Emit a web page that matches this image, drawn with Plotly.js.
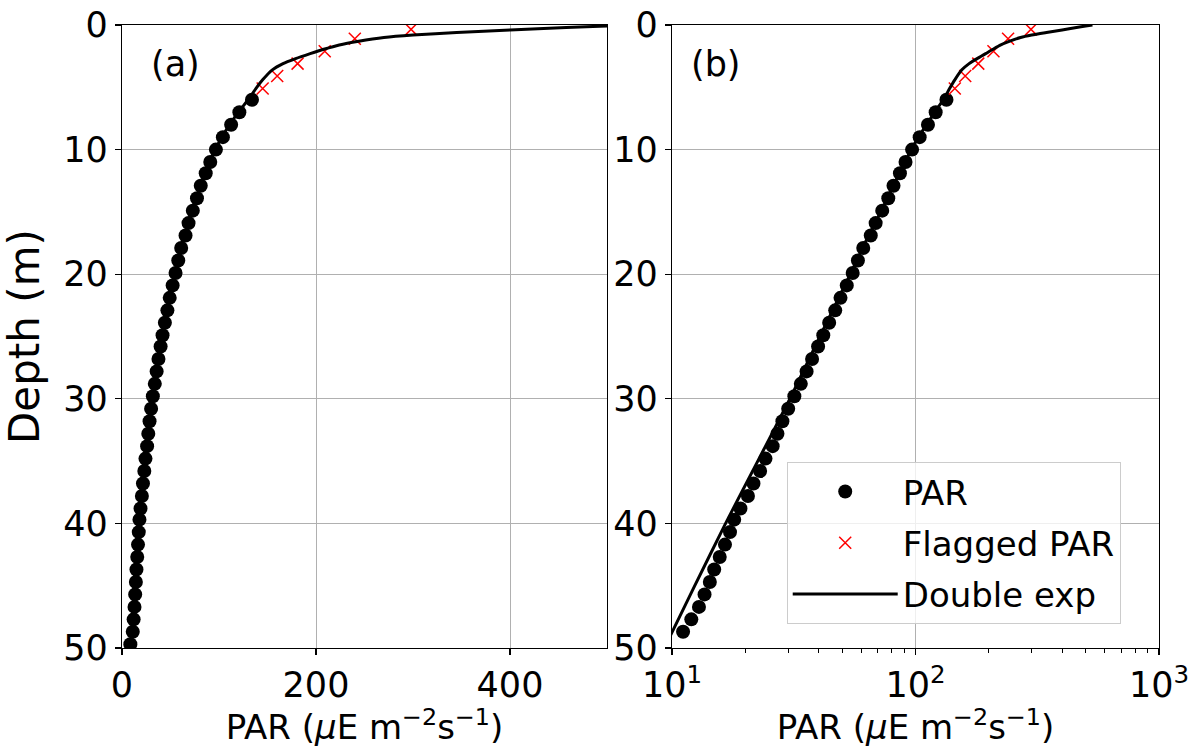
<!DOCTYPE html>
<html>
<head>
<meta charset="utf-8">
<script src="https://cdn.plot.ly/plotly-3.0.1.min.js"></script>
<style>html,body{margin:0;padding:0;background:#fff;}</style>
</head>
<body>
<div id="chart" style="width:1198px;height:747px;"></div>
<script>
// PAR profile (dots)
const parDepth = [6.0,7.0,8.0,9.0,10.0,11.0,11.9,12.9,13.9,14.9,15.9,16.9,17.9,18.9,19.9,20.9,21.9,22.9,23.9,24.9,25.8,26.8,27.8,28.8,29.8,30.8,31.8,32.8,33.8,34.8,35.8,36.8,37.8,38.8,39.7,40.7,41.7,42.7,43.7,44.7,45.7,46.7,47.7,48.7,49.7];
const parValue = [134,121,112.5,104,96.8,91,86.3,81.2,77.3,73,68.6,65.5,61,58,55.2,52.2,49.2,46.8,44.2,41.8,39.8,37.6,35.7,33.8,31.8,30.0,28.4,27.1,25.9,24.2,23.0,21.6,20.5,19.1,18.0,17.3,16.5,15.7,14.9,14.3,13.6,12.9,12.0,11.1,8.6];

// Flagged PAR (red crosses)
const flagDepth = [0.35,1.1,2.1,3.1,4.1,5.1];
const flagValue = [298,240,209,181,160,145];

// Double exponential fit (line)
const fitDepth = [0,0.08,0.2,0.4,0.6,0.8,1.0,1.3,1.6,1.95,2.3,2.7,3.1,3.6,4.4,5.1,5.9,7,8,9,10,12.5,15,17.5,20,25,30,35,40,45,50];
const fitValue = [533,500,458,400,345,300,270,244,224,208,194,179,166,155,145,138,131,120,111,103,96,83,72,62,54,40.5,30.5,22.5,16.6,12.4,9.3];

// Axis ticks
const depthTicks = [0,10,20,30,40,50];
const linTicks = [0,200,400];
const logTicks = [10,100,1000];
const logTickText = ['10<sup>1</sup>','10<sup>2</sup>','10<sup>3</sup>'];
const logMinor = [20,30,40,50,60,70,80,90,200,300,400,500,600,700,800,900];
const panelLabels = ['(a)','(b)'];

const FONT = 'DejaVu Sans, Liberation Sans, sans-serif';
const xTitle = 'PAR (<i>μ</i>E m<sup>−2</sup>s<sup>−1</sup>)';

function traces(xa, ya, legend) {
  return [
    {x: parValue, y: parDepth, xaxis: xa, yaxis: ya, type: 'scatter', mode: 'markers', name: 'PAR',
     showlegend: legend, legendgroup: 'g1',
     marker: {symbol: 'circle', size: 14, color: '#000000'}},
    {x: flagValue, y: flagDepth, xaxis: xa, yaxis: ya, type: 'scatter', mode: 'markers', name: 'Flagged PAR',
     showlegend: legend, legendgroup: 'g2',
     marker: {symbol: 'x-thin-open', size: 12, color: '#ff0000', line: {color: '#ff0000', width: 1.5}}},
    {x: fitValue, y: fitDepth, xaxis: xa, yaxis: ya, type: 'scatter', mode: 'lines', name: 'Double exp',
     showlegend: legend, legendgroup: 'g3',
     line: {color: '#000000', width: 3, shape: 'spline', smoothing: 0.6}}
  ];
}

const data = [].concat(traces('x', 'y', false), traces('x2', 'y2', true));

const axisCommon = {
  showline: true, mirror: true, linecolor: '#000000', linewidth: 1.3,
  ticks: 'outside', ticklen: 6, tickwidth: 1.3, tickcolor: '#000000',
  showgrid: true, gridcolor: '#b0b0b0', gridwidth: 1, zeroline: false,
  tickfont: {family: FONT, size: 35, color: '#000000'}
};

const layout = {
  width: 1198, height: 747,
  margin: {l: 122, r: 39, t: 25, b: 99},
  paper_bgcolor: '#ffffff', plot_bgcolor: '#ffffff',
  font: {family: FONT, color: '#000000'},
  xaxis: Object.assign({}, axisCommon, {
    domain: [0, 0.4677], range: [0, 500], tickvals: linTicks, anchor: 'y',
    title: {text: xTitle, font: {family: FONT, size: 34, color: '#000000'}}
  }),
  yaxis: Object.assign({}, axisCommon, {
    range: [50, 0], tickvals: depthTicks, anchor: 'x',
    title: {text: 'Depth (m)', font: {family: FONT, size: 42, color: '#000000'}}
  }),
  xaxis2: Object.assign({}, axisCommon, {
    type: 'log', domain: [0.5304, 1], range: [1, 3], anchor: 'y2',
    tickmode: 'array', tickvals: logTicks, ticktext: logTickText,
    minor: {tickmode: 'array', tickvals: logMinor, ticks: 'outside', ticklen: 3.5, tickwidth: 1, tickcolor: '#000000', showgrid: false},
    title: {text: xTitle, font: {family: FONT, size: 34, color: '#000000'}}
  }),
  yaxis2: Object.assign({}, axisCommon, {
    range: [50, 0], tickvals: depthTicks, anchor: 'x2'
  }),
  legend: {
    x: 0.641, y: 0.2986, xanchor: 'left', yanchor: 'top',
    bgcolor: 'rgba(255,255,255,0.8)', bordercolor: '#cccccc', borderwidth: 1,
    font: {family: FONT, size: 34, color: '#000000'},
    itemwidth: 105, traceorder: 'grouped', tracegroupgap: 4
  },
  annotations: [
    {text: panelLabels[0], xref: 'x domain', yref: 'y domain', x: 0.111, y: 0.937, xanchor: 'center', yanchor: 'middle', showarrow: false, font: {family: FONT, size: 35, color: '#000000'}},
    {text: panelLabels[1], xref: 'x2 domain', yref: 'y2 domain', x: 0.090, y: 0.937, xanchor: 'center', yanchor: 'middle', showarrow: false, font: {family: FONT, size: 35, color: '#000000'}}
  ]
};

Plotly.newPlot('chart', data, layout, {displayModeBar: false, staticPlot: true});
</script>
</body>
</html>
